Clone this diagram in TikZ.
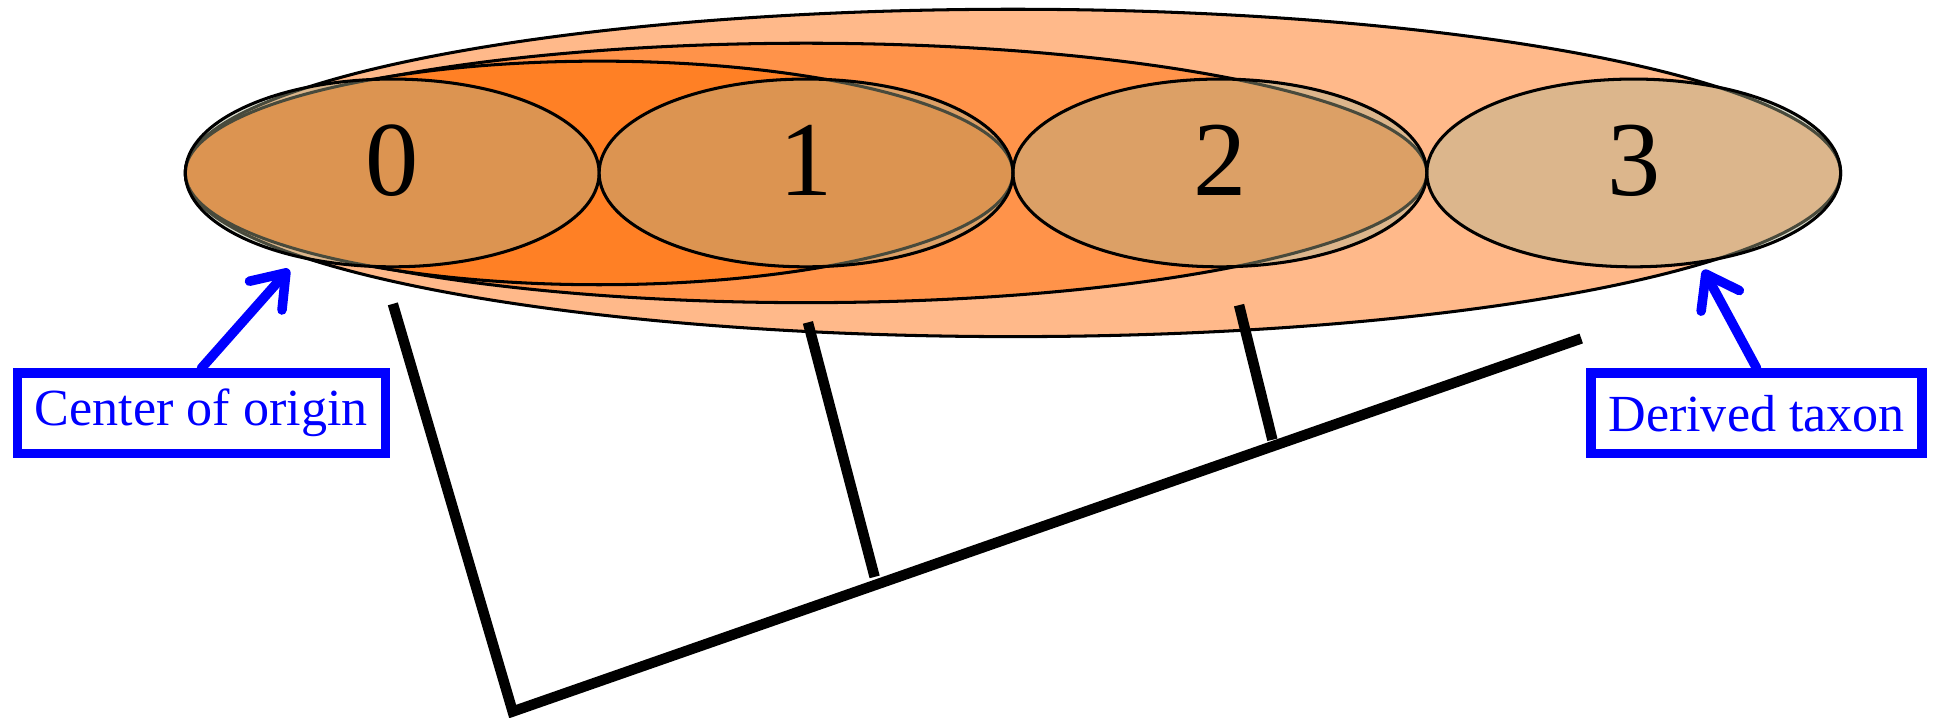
\documentclass[tikz,border=0pt]{standalone}
\usepackage{fontspec}
\setmainfont{Liberation Serif}
\usetikzlibrary{shapes.geometric,arrows.meta}
\definecolor{outerFill}{RGB}{255,185,138}
\definecolor{midFill}{RGB}{255,147,74}
\definecolor{innerFill}{RGB}{255,128,37}
\definecolor{taxonFill}{RGB}{172,178,143}
\newcommand{\areaPath}[4]{%%
  \draw[areaStyle,fill=#4] (#1,\ymid) ellipse [x radius=#2,y radius=#3];
}

\begin{document}
\begin{tikzpicture}[%%
  areaStyle/.style={draw=black,line width=0.7pt},%%
  taxonStyle/.style={ellipse,draw=black,line width=0.7pt,fill=taxonFill,%%
    fill opacity=0.42,text opacity=1,inner sep=0pt,%%
    minimum width=3.35cm,minimum height=1.52cm,text depth=0.21cm,%%
    font=\fontsize{24.5pt}{24.5pt}\selectfont},%%
  noteStyle/.style={draw=blue,text=blue,line width=2.2pt,inner sep=0pt,%%
    minimum height=0.65cm,font=\fontsize{12pt}{14pt}\selectfont},%%
  pointerStyle/.style={blue,line width=2.2pt,line cap=round,%%
    -{Straight Barb[length=7pt,width=10pt,round]}},%%
  treeStyle/.style={-,line width=2.4pt}
]
%%
\useasboundingbox (0,0) rectangle (15.68,-5.81);
\pgfmathsetmacro{\ymid}{-1.40}
%%
%% Nested ranges, widest first.
\areaPath{8.20}{6.70}{1.325}{outerFill}
\areaPath{6.525}{5.025}{1.05}{midFill}
\areaPath{4.85}{3.35}{0.905}{innerFill}
%%
%% The taxa, side by side.
\node[taxonStyle] (taxon0) at (3.175,\ymid) {0};
\node[taxonStyle] (taxon1) at (6.525,\ymid) {1};
\node[taxonStyle] (taxon2) at (9.875,\ymid) {2};
\node[taxonStyle] (taxon3) at (13.225,\ymid) {3};
%%
%% The cladogram.
\coordinate (root) at (4.15,-5.76);
\coordinate (tip0) at (3.18,-2.46);
\coordinate (tip1) at (6.54,-2.61);
\coordinate (tip2) at (10.03,-2.47);
\coordinate (tip3) at (12.80,-2.74);
\coordinate (fork1) at (7.08,-4.67);
\coordinate (fork2) at (10.30,-3.56);
\draw[treeStyle] (tip0) -- (root) -- (tip3);
\draw[treeStyle] (tip1) -- (fork1);
\draw[treeStyle] (tip2) -- (fork2);
%%
%% Notes with pointers.
\node[noteStyle,minimum width=2.98cm] (origin) at (1.63,-3.345) {Center of origin};
\node[noteStyle,minimum width=2.68cm] (derived) at (14.22,-3.345) {Derived taxon};
\coordinate (originTip) at (2.34,-2.18);
\coordinate (derivedTip) at (13.79,-2.185);
\draw[pointerStyle] (origin.north) -- (originTip);
\draw[pointerStyle] (derived.north) -- (derivedTip);
\end{tikzpicture}
\end{document}
